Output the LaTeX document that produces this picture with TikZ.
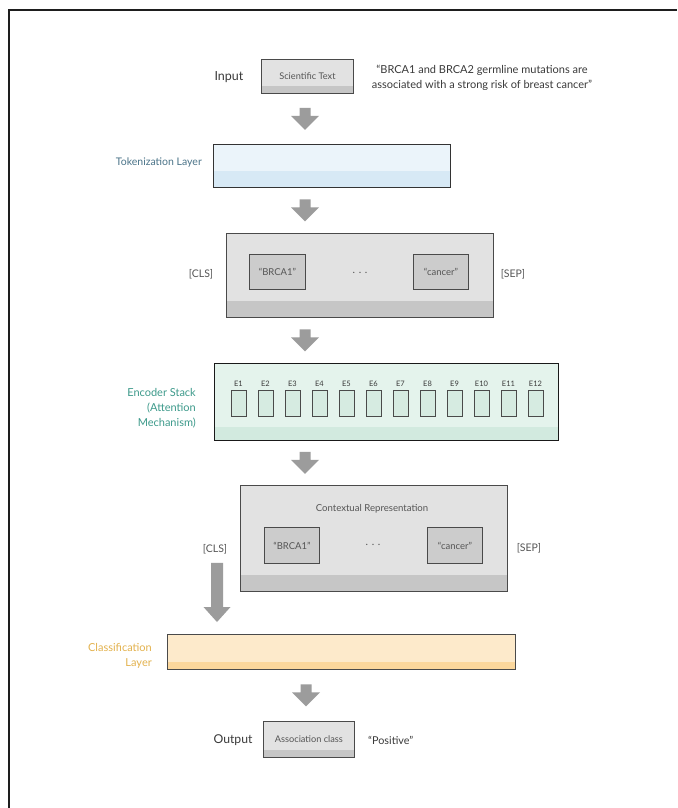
\documentclass[tikz,border=0pt]{standalone}
\usepackage{fontspec}
\setmainfont{Lato}
\usetikzlibrary{calc}
\definecolor{frameC}{HTML}{1E1E1E}
\definecolor{borderC}{HTML}{4A4A4A}
\definecolor{arrowC}{HTML}{9C9C9C}
\definecolor{grayF}{HTML}{E2E2E2}
\definecolor{grayS}{HTML}{C6C6C6}
\definecolor{innerF}{HTML}{CCCCCC}
\definecolor{tokF}{HTML}{EBF4FA}
\definecolor{tokS}{HTML}{D7E9F5}
\definecolor{encF}{HTML}{E4F3EC}
\definecolor{encS}{HTML}{D2EADF}
\definecolor{encBox}{HTML}{D6EBE1}
\definecolor{clsF}{HTML}{FDEACB}
\definecolor{clsS}{HTML}{FBD79C}
\definecolor{txtC}{HTML}{3A3A3A}
\definecolor{lblC}{HTML}{555555}
\definecolor{tokT}{HTML}{4A7388}
\definecolor{encT}{HTML}{3D9A8B}
\definecolor{clsT}{HTML}{E3B24E}
\tikzset{
  blk/.style={draw=borderC, line width=0.9pt, inner sep=0pt, anchor=north west},
  stripe/.style 2 args={path picture={\fill[#1] ([yshift=#2pt]path picture bounding box.south west) rectangle (path picture bounding box.south east);}},
  lbl/.style={text=lblC, font=\fontsize{10.5}{12}\selectfont, inner sep=0pt},
  blockarr/.pic={\fill[arrowC] (-5.5,-11) -- (5.5,-11) -- (5.5,-3) -- (14,-3) -- (0,11) -- (-14,-3) -- (-5.5,-3) -- cycle;}
}
\begin{document}
\begin{tikzpicture}[x=1pt,y=-1pt]
\useasboundingbox (0,0) rectangle (677,808);
\fill[white] (0,0) rectangle (677,808);
\draw[frameC, line width=2pt] (9,808) -- (9,10) -- (677,10);

% Input row
\node[blk, fill=grayF, stripe={grayS}{7}, minimum width=92pt, minimum height=34pt,
      font=\fontsize{9.2}{10}\selectfont, text=lblC] (sci) at (261,59) {Scientific Text};
\node[text=txtC, font=\fontsize{12.5}{14}\selectfont, inner sep=0pt] (inp) at (229,77) {Input};
\node[text=txtC, font=\fontsize{11}{15}\selectfont, align=center, inner sep=0pt] (quote) at (482,78)
  {“BRCA1 and BRCA2 germline mutations are\\associated with a strong risk of breast cancer”};

% Tokenization
\node[blk, draw=black!80, fill=tokF, stripe={tokS}{16}, minimum width=237pt, minimum height=43pt] (tok) at (213,144) {};
\node[text=tokT, font=\fontsize{10.5}{12}\selectfont, anchor=east, inner sep=0pt] (tokl) at (202,163) {Tokenization Layer};

% Tokens
\node[blk, fill=grayF, stripe={grayS}{16}, minimum width=267pt, minimum height=84pt] (tkb) at (226,233) {};
\node[blk, fill=innerF, minimum width=56pt, minimum height=35pt, font=\fontsize{9.5}{11}\selectfont, text=lblC] (tb1) at (249,254) {“BRCA1”};
\node[blk, fill=innerF, minimum width=55pt, minimum height=35pt, font=\fontsize{9.5}{11}\selectfont, text=lblC] (tb2) at (413,254) {“cancer”};
\node[lbl] (tdots) at (360,273) {. . .};
\node[lbl] (tcls) at (201,274) {[CLS]};
\node[lbl] (tsep) at (513,274) {[SEP]};

% Encoder
\node[blk, draw=black!90, fill=encF, stripe={encS}{13}, minimum width=344pt, minimum height=77pt] (enc) at (214,363) {};
\foreach \i in {1,...,12} {
  \node[blk, draw=borderC, line width=0.7pt, fill=encBox, minimum width=15pt, minimum height=26pt] (e\i) at ({231+27*(\i-1)},390) {};
  \node[text=txtC, font=\fontsize{7.5}{8}\selectfont, inner sep=0pt] (el\i) at ({238.5+27*(\i-1)},383.5) {E\i};
}
\node[text=encT, font=\fontsize{11}{15}\selectfont, align=right, anchor=east, inner sep=0pt] (encl) at (196,408)
  {Encoder Stack\\(Attention\\Mechanism)};

% Contextual
\node[blk, fill=grayF, stripe={grayS}{16}, minimum width=267pt, minimum height=106pt] (ctx) at (240,485) {};
\node[text=lblC, font=\fontsize{9.6}{11}\selectfont, inner sep=0pt] (ctxl) at (372,509) {Contextual Representation};
\node[blk, fill=innerF, minimum width=55pt, minimum height=36pt, font=\fontsize{9.5}{11}\selectfont, text=lblC] (cb1) at (264,527) {“BRCA1”};
\node[blk, fill=innerF, minimum width=55pt, minimum height=36pt, font=\fontsize{9.5}{11}\selectfont, text=lblC] (cb2) at (427,527) {“cancer”};
\node[lbl] (cdots) at (373,545) {. . .};
\node[lbl] (ccls) at (215,549) {[CLS]};
\node[lbl] (csep) at (529,548) {[SEP]};

% Classification
\node[blk, fill=clsF, stripe={clsS}{7}, minimum width=348pt, minimum height=35pt] (cls) at (167,634) {};
\node[text=clsT, font=\fontsize{11}{15}\selectfont, align=right, anchor=east, inner sep=0pt] (clsl) at (152,656)
  {Classification\\Layer};

% Output
\node[blk, fill=grayF, stripe={grayS}{7}, minimum width=91pt, minimum height=36pt,
      font=\fontsize{9.2}{10}\selectfont, text=lblC] (out) at (263,721) {Association class};
\node[text=txtC, font=\fontsize{12.2}{14}\selectfont, inner sep=0pt] (outl) at (233,740) {Output};
\node[text=txtC, font=\fontsize{10.8}{12}\selectfont, anchor=west, inner sep=0pt] (pos) at (368,740) {“Positive”};

% Block arrows between stages
\pic at ($(305,0 |- sci.south)!0.5!(305,0 |- tok.north)$) {blockarr};
\pic at ($(305,0 |- tok.south)!0.5!(305,0 |- tkb.north)$) {blockarr};
\pic at ($(305,0 |- tkb.south)!0.5!(305,0 |- enc.north)$) {blockarr};
\pic at ($(305,0 |- enc.south)!0.5!(305,0 |- ctx.north)$) {blockarr};
\pic at ($(306,0 |- cls.south)!0.5!(306,0 |- out.north)$) {blockarr};

% Long arrow from [CLS] to classification layer
\coordinate (lat) at ($(ccls.south)+(2,9)$);
\coordinate (lab) at ($(lat |- cls.north)+(0,-12)$);
\fill[arrowC] ($(lat)+(-6,0)$) -- ($(lat)+(6,0)$) -- ($(lab)+(6,-15)$) -- ($(lab)+(13.5,-15)$)
  -- (lab) -- ($(lab)+(-13.5,-15)$) -- ($(lab)+(-6,-15)$) -- cycle;
\end{tikzpicture}
\end{document}
